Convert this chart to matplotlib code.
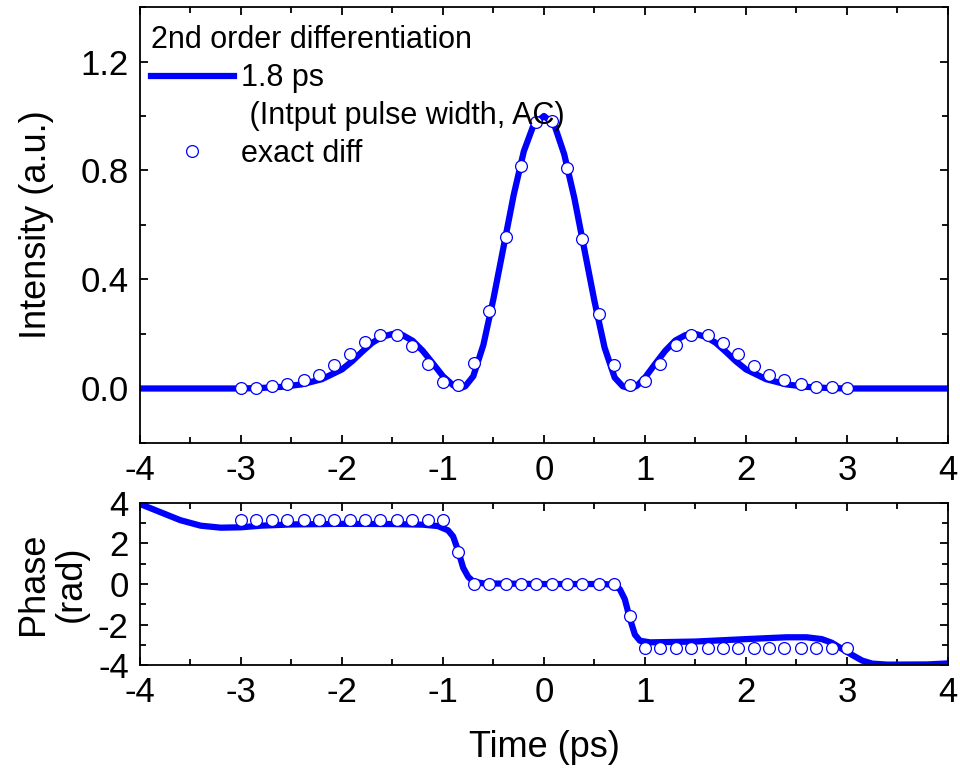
import matplotlib
matplotlib.use("Agg")
import matplotlib.pyplot as plt
from matplotlib.lines import Line2D
from matplotlib.ticker import MultipleLocator, FormatStrFormatter

plt.rcParams['font.family'] = ['Liberation Sans', 'DejaVu Sans']
plt.rcParams['axes.unicode_minus'] = False

# simulated output intensity (solid line)
t_line = [-4.0, -3.5, -3.0, -2.8, -2.6, -2.4, -2.2, -2.0, -1.9, -1.8, -1.7, -1.6,
          -1.5, -1.4, -1.3, -1.2, -1.1, -1.0, -0.9, -0.84, -0.78, -0.7, -0.6, -0.5,
          -0.4, -0.3, -0.2, -0.1, 0.0, 0.1, 0.2, 0.3, 0.4, 0.5, 0.6, 0.7, 0.78,
          0.86, 0.92, 1.0, 1.1, 1.2, 1.3, 1.4, 1.5, 1.6, 1.7, 1.8, 1.9, 2.0, 2.2,
          2.4, 2.6, 2.8, 3.0, 3.5, 4.0]
i_line = [0.0, 0.0, 0.0, 0.002, 0.006, 0.015, 0.034, 0.07, 0.1, 0.135, 0.168, 0.19,
          0.2, 0.196, 0.175, 0.138, 0.092, 0.045, 0.012, 0.0, 0.008, 0.045, 0.16, 0.33,
          0.52, 0.71, 0.87, 0.97, 1.0, 0.97, 0.86, 0.70, 0.51, 0.32, 0.15, 0.04, 0.008,
          0.0, 0.01, 0.04, 0.09, 0.138, 0.176, 0.196, 0.2, 0.19, 0.168, 0.135, 0.1, 0.07, 0.034,
          0.015, 0.006, 0.002, 0.0, 0.0, 0.0]

# exact differentiation (open circles)
t_pts = [-3.00, -2.85, -2.69, -2.54, -2.38, -2.23, -2.08, -1.92, -1.77, -1.62,
         -1.46, -1.31, -1.15, -1.00, -0.85, -0.69, -0.54, -0.38, -0.23, -0.08,
         0.08, 0.23, 0.38, 0.54, 0.69, 0.85, 1.00, 1.15, 1.31, 1.46,
         1.62, 1.77, 1.92, 2.08, 2.23, 2.38, 2.54, 2.69, 2.85, 3.00]
i_pts = [0.000, 0.003, 0.009, 0.016, 0.031, 0.051, 0.085, 0.127, 0.169, 0.197,
         0.197, 0.157, 0.090, 0.025, 0.013, 0.093, 0.283, 0.555, 0.815, 0.979,
         0.981, 0.810, 0.548, 0.275, 0.088, 0.012, 0.027, 0.091, 0.158, 0.197,
         0.197, 0.168, 0.126, 0.084, 0.051, 0.030, 0.015, 0.007, 0.004, 0.000]
p_pts = [3.14] * 14 + [1.57] + [0.0] * 10 + [-1.57] + [-3.14] * 14

# simulated phase (solid line)
t_phase = [-4.0, -3.8, -3.6, -3.4, -3.2, -3.0, -2.8, -2.5, -2.0, -1.5, -1.2, -1.05,
           -0.95, -0.9, -0.85, -0.8, -0.75, -0.7, -0.6, 0.0, 0.6, 0.68, 0.75, 0.8,
           0.85, 0.9, 0.95, 1.05, 1.5, 2.0, 2.4, 2.6, 2.75, 2.85, 2.95, 3.05, 3.15,
           3.25, 3.4, 3.8, 4.0]
p_line = [3.95, 3.55, 3.15, 2.88, 2.78, 2.80, 2.88, 2.94, 2.97, 2.96, 2.93, 2.86,
          2.65, 2.35, 1.65, 0.8, 0.35, 0.12, 0.03, 0.0, 0.0, -0.05, -0.25, -0.75,
          -1.7, -2.5, -2.8, -2.88, -2.84, -2.72, -2.63, -2.63, -2.72, -2.9, -3.2, -3.5, -3.78,
          -3.93, -3.98, -3.97, -3.92]

blue = '#0000ff'
fs_tick = 25
fs_lab = 26
fs_leg = 22

fig = plt.figure(figsize=(9.6, 7.78), dpi=100)
ax1 = fig.add_axes([0.1458, 0.4306, 0.8417, 0.5604])
ax2 = fig.add_axes([0.1458, 0.1452, 0.8417, 0.2083])

ax1.plot(t_line, i_line, color=blue, lw=4.5, solid_capstyle='butt')
ax1.plot(t_pts, i_pts, 'o', mfc='white', mec=blue, mew=0.9, ms=8.5, ls='none')
ax1.set_xlim(-4, 4)
ax1.set_ylim(-0.2, 1.4)
ax1.yaxis.set_major_locator(MultipleLocator(0.4))
ax1.yaxis.set_minor_locator(MultipleLocator(0.2))
ax1.yaxis.set_major_formatter(FormatStrFormatter('%.1f'))
ax1.set_ylabel('Intensity (a.u.)', fontsize=fs_lab, labelpad=19)

ax2.plot(t_phase, p_line, color=blue, lw=4.5, solid_capstyle='butt')
ax2.plot(t_pts, p_pts, 'o', mfc='white', mec=blue, mew=0.9, ms=8.5, ls='none')
ax2.set_xlim(-4, 4)
ax2.set_ylim(-4, 4)
ax2.yaxis.set_major_locator(MultipleLocator(2))
ax2.yaxis.set_minor_locator(MultipleLocator(1))
ax2.set_ylabel('Phase\n(rad)', fontsize=fs_lab, labelpad=7, linespacing=1.1)
ax2.set_xlabel('Time (ps)', fontsize=fs_lab, labelpad=15)

for ax in (ax1, ax2):
    ax.xaxis.set_major_locator(MultipleLocator(1))
    ax.xaxis.set_minor_locator(MultipleLocator(0.5))
    ax.tick_params(which='both', direction='in', top=True, right=True,
                   labelsize=fs_tick, width=1.3, pad=8)
    ax.tick_params(which='major', length=6)
    ax.tick_params(which='minor', length=4)
    for s in ax.spines.values():
        s.set_linewidth(1.3)

handles = [Line2D([], [], color=blue, lw=4.5),
           Line2D([], [], color='none'),
           Line2D([], [], marker='o', mfc='white', mec=blue, mew=0.9, ms=8.5, ls='none')]
labels = ['1.8 ps', ' (Intput pulse width, AC)', 'exact diff']
leg = ax1.legend(handles, labels, loc='upper left', bbox_to_anchor=(-0.009, 1.0),
                 frameon=False, fontsize=fs_leg,
                 title='2nd order differentiation', title_fontsize=fs_leg,
                 alignment='left', handlelength=2.7, handletextpad=0.26,
                 labelspacing=0.26, borderaxespad=0.3, borderpad=0.3)

fig.savefig('out.png', dpi=100)
